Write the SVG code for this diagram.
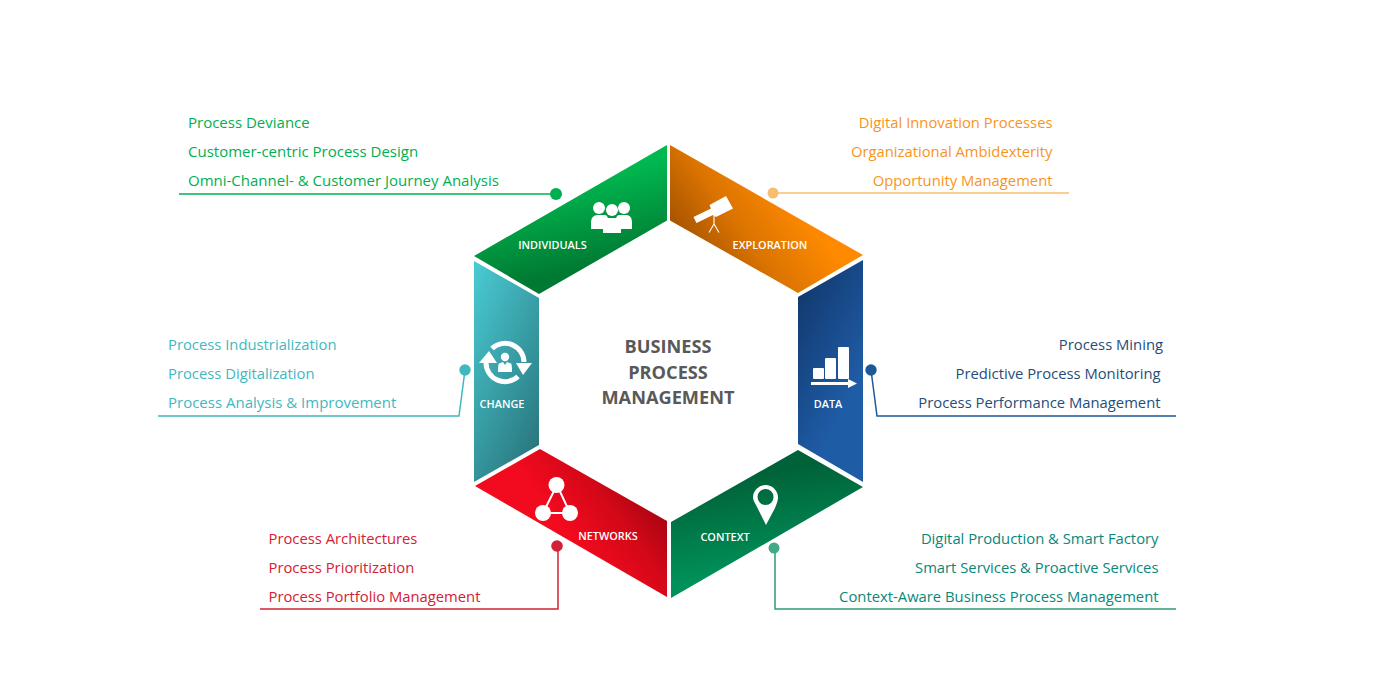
<svg xmlns="http://www.w3.org/2000/svg" width="1384" height="680" viewBox="0 0 1384 680">
<style>
text{font-family:"Open Sans","Noto Sans","Liberation Sans",sans-serif}
.i{font-size:14.8px}
.g{font-size:15px}
.e{text-anchor:end}
.n{font-size:10.9px;font-weight:600;fill:#fff;text-anchor:middle}
.w{fill:#fff}
.wl{stroke:#fff;fill:none}
.c{fill:none;stroke-width:1.5}
.t{font-size:18.2px;font-weight:700;fill:#595959;text-anchor:middle}
</style>
<defs>
<linearGradient id="g1" gradientUnits="userSpaceOnUse" x1="590" y1="175" x2="610" y2="262"><stop offset="0" stop-color="#00b850"/><stop offset="1" stop-color="#007a33"/></linearGradient>
<linearGradient id="g2" gradientUnits="userSpaceOnUse" x1="690" y1="262" x2="790" y2="190"><stop offset="0" stop-color="#a05000"/><stop offset=".5" stop-color="#dc7400"/><stop offset="1" stop-color="#ff8a00"/></linearGradient>
<linearGradient id="g3" gradientUnits="userSpaceOnUse" x1="474" y1="261" x2="597" y2="318"><stop offset="0" stop-color="#4accd4"/><stop offset="1" stop-color="#2a7880"/></linearGradient>
<linearGradient id="g4" gradientUnits="userSpaceOnUse" x1="798" y1="297" x2="880" y2="340"><stop offset="0" stop-color="#123a70"/><stop offset="1" stop-color="#1f5ca6"/></linearGradient>
<linearGradient id="g5" gradientUnits="userSpaceOnUse" x1="580" y1="550" x2="660" y2="490"><stop offset="0" stop-color="#f20a1e"/><stop offset=".5" stop-color="#d30818"/><stop offset="1" stop-color="#9c0410"/></linearGradient>
<linearGradient id="g6" gradientUnits="userSpaceOnUse" x1="745" y1="475" x2="760" y2="570"><stop offset="0" stop-color="#006238"/><stop offset="1" stop-color="#009058"/></linearGradient>
</defs>
<g id="connectors">
<path class="c" stroke="#00b050" d="M179 194H556"/><circle cx="556" cy="194" r="6" fill="#00b050"/>
<path class="c" stroke="#f7bd70" d="M1069 193H773"/><circle cx="773" cy="193" r="5.5" fill="#f7bd70"/>
<path class="c" stroke="#3fb8c0" d="M158 416H459L465 370"/><circle cx="465" cy="370" r="5.7" fill="#3fb8c0"/>
<path class="c" stroke="#1c5a96" d="M1176 416H877L871 370"/><circle cx="871" cy="370" r="5.7" fill="#1c5a96"/>
<path class="c" stroke="#d42035" d="M260 609H558V546"/><circle cx="557" cy="546" r="5.8" fill="#d42035"/>
<path class="c" stroke="#2e9a78" d="M1176 609H775V548"/><circle cx="774" cy="548" r="5.5" fill="#45a886"/>
</g>
<g id="individuals">
<polygon points="667,145 667,220.5 539,294 474,256" fill="url(#g1)"/>
<g class="w"><circle cx="599" cy="208" r="6"/><circle cx="624" cy="208" r="6"/><circle cx="612" cy="210" r="6"/>
<path d="M591 229V222Q591 216 597 215H605Q607 215 608 218H616Q617 215 619 215H627Q632 216 632 222V229H621V233H603V229Z"/></g>
<text class="n" x="552.500" y="249">INDIVIDUALS</text>
</g>
<g id="exploration">
<polygon points="670,145 670,220.5 798,293 863,255" fill="url(#g2)"/>
<path class="w" d="M693.500 217L711 208.500L709.500 205L726 196L733 208.500L716 217L713 215L696.500 223Z"/>
<path class="wl" stroke-width="1.100" d="M714 215V225M714 224L709 232.500M714 224L719 232.500"/>
<text class="n" x="770" y="249">EXPLORATION</text>
</g>
<g id="change">
<polygon points="474,261 539,298 539,445 474,482" fill="url(#g3)"/>
<path class="wl" stroke-width="5" d="M486 363A19 19 0 0 0 518 376.500M492 348.500A19 19 0 0 1 524 362"/>
<path class="w" d="M479 363L489 351L497 363ZM516 363H532L523 375Z"/>
<circle class="w" cx="505" cy="357" r="4.200"/>
<path class="w" d="M499 363.500L503 362L505 365L507 362L511 363.500Q512 364 512 372H498Q498 364 499 363.500Z"/>
<text class="n" x="502" y="408">CHANGE</text>
</g>
<g id="data">
<polygon points="798,297 863,260 863,482 798,444" fill="url(#g4)"/>
<g class="w"><rect x="813" y="368" width="11" height="11" rx="1"/><rect x="825" y="358" width="11" height="21" rx="1"/><rect x="838" y="347" width="11" height="32" rx="1"/><path d="M811 382H848V379L857 383.500L848 388V385H811Z"/></g>
<text class="n" x="828" y="408">DATA</text>
</g>
<g id="networks">
<polygon points="540,449 667,521 667,597 475,486" fill="url(#g5)"/>
<path class="wl" stroke-width="2" d="M557 485L543 513H570Z"/>
<g class="w"><circle cx="556.500" cy="485" r="8"/><circle cx="543" cy="513" r="8"/><circle cx="570" cy="513" r="8"/></g>
<text class="n" x="608" y="540">NETWORKS</text>
</g>
<g id="context">
<polygon points="671,522 798,450 863,487 671,598" fill="url(#g6)"/>
<path class="w" fill-rule="evenodd" d="M765.500 485A12.500 12.500 0 0 1 778 497.500Q778 501 775 508L766 525L756 505Q753 500 753 497.500A12.500 12.500 0 0 1 765.500 485ZM765.500 489A8 8 0 1 0 765.600 505A8 8 0 1 0 765.500 489Z"/>
<text class="n" x="725" y="541">CONTEXT</text>
</g>
<g id="center">
<text class="t" x="668" y="353">BUSINESS</text>
<text class="t" x="668" y="379">PROCESS</text>
<text class="t" x="668" y="403.500">MANAGEMENT</text>
</g>
<g id="labels" class="i">
<g fill="#00b050" class="g"><text x="188" y="128">Process Deviance</text><text x="188" y="157">Customer-centric Process Design</text><text x="188" y="186">Omni-Channel- &amp; Customer Journey Analysis</text></g>
<g fill="#f7941d" class="e"><text x="1052.500" y="128">Digital Innovation Processes</text><text x="1052.500" y="157">Organizational Ambidexterity</text><text x="1052.500" y="186">Opportunity Management</text></g>
<g fill="#3fb8c0"><text x="168" y="350">Process Industrialization</text><text x="168" y="379">Process Digitalization</text><text x="168" y="408" class="g">Process Analysis &amp; Improvement</text></g>
<g fill="#1f4e79" class="e"><text x="1163" y="350">Process Mining</text><text x="1160.500" y="379">Predictive Process Monitoring</text><text x="1160.500" y="408">Process Performance Management</text></g>
<g fill="#d42035"><text x="268.500" y="544">Process Architectures</text><text x="268.500" y="573">Process Prioritization</text><text x="268.500" y="602">Process Portfolio Management</text></g>
<g fill="#07887a" class="e"><text x="1158.500" y="544">Digital Production &amp; Smart Factory</text><text x="1158.500" y="573">Smart Services &amp; Proactive Services</text><text x="1158.500" y="602">Context-Aware Business Process Management</text></g>
</g>
</svg>
